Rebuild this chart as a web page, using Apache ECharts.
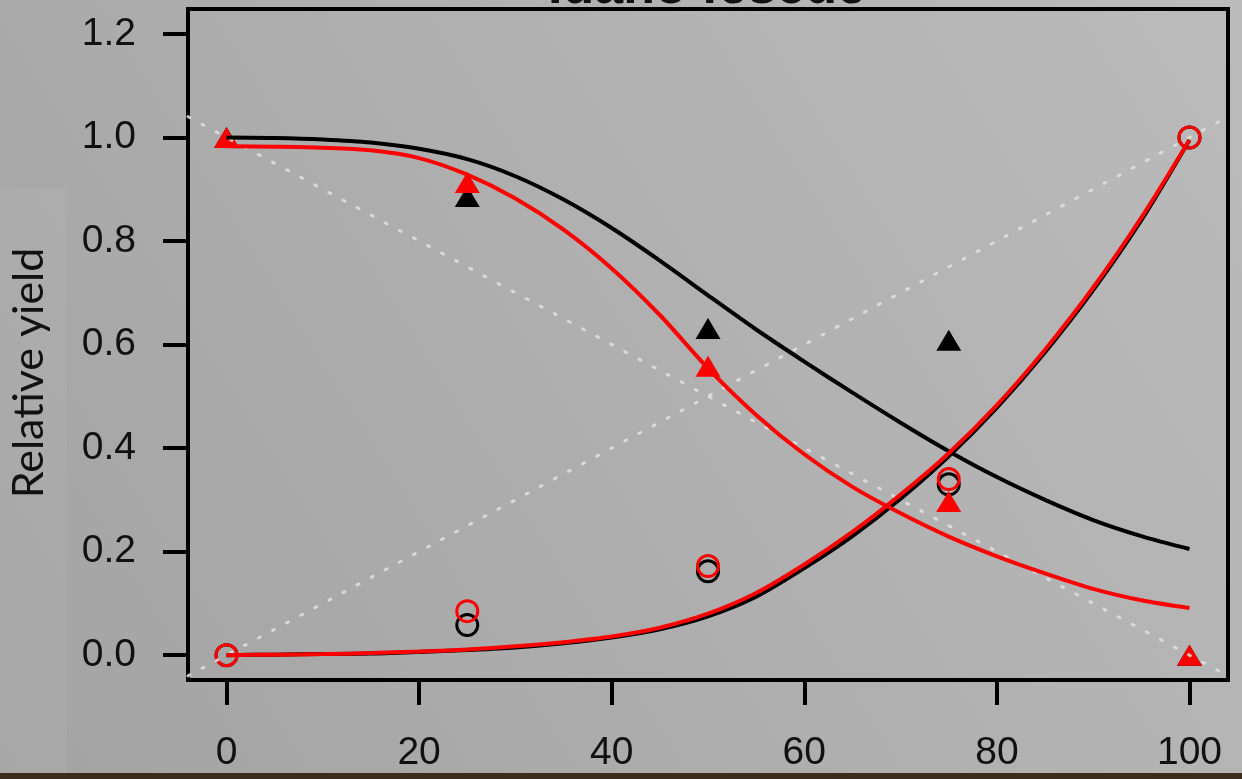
<!DOCTYPE html>
<html lang="en">
<head>
    <meta charset="UTF-8">
    <title>Idaho fescue</title>
    <script src="https://cdn.jsdelivr.net/npm/echarts@6/dist/echarts.min.js"></script>
    <style>html,body{margin:0;padding:0;}</style>
</head>
<body>
    <div id="main" style="width: 1242px;height: 779px"></div>
    <script>
        // x 轴刻度和 y 轴刻度
        var xTicks = [0, 20, 40, 60, 80, 100];
        var yTicks = [0, 0.2, 0.4, 0.6, 0.8, 1.0, 1.2];

        // 观测点
        var blackTri = [[0, 1.0], [25, 0.886], [50, 0.631], [75, 0.608], [100, 0]];
        var redTri = [[0, 1.0], [25, 0.913], [50, 0.558], [75, 0.297], [100, 0]];
        var blackCirc = [[0, 0], [25, 0.058], [50, 0.162], [75, 0.33], [100, 1.0]];
        var redCirc = [[0, 0], [25, 0.085], [50, 0.172], [75, 0.34], [100, 1.0]];

        // 拟合曲线
        var curveX = [0, 5, 10, 15, 20, 25, 30, 35, 40, 45, 50, 55, 60, 65, 70, 75, 80, 85, 90, 95, 100];
        var blackDec = [1.0, 0.999, 0.996, 0.99, 0.978, 0.958, 0.925, 0.88, 0.825, 0.762, 0.695, 0.629, 0.567, 0.507, 0.449, 0.394, 0.344, 0.3, 0.261, 0.23, 0.205];
        var redDec = [0.983, 0.982, 0.98, 0.975, 0.96, 0.928, 0.882, 0.822, 0.747, 0.657, 0.554, 0.464, 0.388, 0.325, 0.274, 0.229, 0.191, 0.158, 0.128, 0.106, 0.091];
        var blackInc = [0, 0.001, 0.002, 0.003, 0.006, 0.01, 0.015, 0.023, 0.034, 0.05, 0.075, 0.113, 0.168, 0.23, 0.302, 0.384, 0.478, 0.585, 0.705, 0.84, 0.995];
        var redInc = [0, 0.001, 0.002, 0.004, 0.007, 0.011, 0.017, 0.025, 0.036, 0.053, 0.08, 0.12, 0.175, 0.238, 0.31, 0.39, 0.483, 0.59, 0.71, 0.845, 0.995];

        // 白色虚线（对角参考线）
        var refX = [-4, 104];
        var refDown = [1.04, -0.04];
        var refUp = [-0.04, 1.04];

        function pairs(xs, ys) {
            return xs.map(function (x, i) { return [x, ys[i]]; });
        }

        function curve(data, color) {
            return {
                type: 'line', data: data, showSymbol: false, smooth: 0.3,
                lineStyle: {color: color, width: 4}, silent: true
            };
        }

        function refLine(data) {
            return {
                type: 'line', data: data, showSymbol: false, silent: true,
                lineStyle: {color: 'rgba(225,225,225,0.85)', width: 3, type: [2, 14], cap: 'round'}
            };
        }

        function points(data, symbol, color, filled) {
            return {
                type: 'scatter', data: data, symbol: symbol,
                symbolSize: filled ? [25, 21] : 21,
                itemStyle: filled ? {color: color, opacity: 1} : {color: 'rgba(0,0,0,0)', borderColor: color, borderWidth: 3, opacity: 1}
            };
        }

        var mCharts = echarts.init(document.getElementById('main'));
        var option = {
            animation: false,
            backgroundColor: {
                type: 'linear', x: 0, y: 1, x2: 1, y2: 0,
                colorStops: [{offset: 0, color: '#a3a3a3'}, {offset: 1, color: '#bbbbbb'}]
            },
            grid: {left: 188, right: 14, top: 9, bottom: 99, show: true, borderColor: '#000', borderWidth: 4},
            xAxis: {
                type: 'value', min: -4, max: 104,
                axisLine: {show: false, onZero: false}, splitLine: {show: false},
                axisTick: {show: true, customValues: xTicks, length: 25, lineStyle: {color: '#000', width: 4}},
                axisLabel: {customValues: xTicks, fontSize: 39, color: '#111', margin: 54, fontFamily: 'Liberation Sans'}
            },
            yAxis: {
                type: 'value', min: -0.048, max: 1.248,
                axisLine: {show: false, onZero: false}, splitLine: {show: false},
                axisTick: {show: true, customValues: yTicks, length: 25, lineStyle: {color: '#000', width: 4}},
                axisLabel: {
                    customValues: yTicks, fontSize: 39, color: '#111', margin: 52, fontFamily: 'Liberation Sans',
                    formatter: function (v) { return v.toFixed(1); }
                }
            },
            graphic: [
                {type: 'rect', shape: {x: 0, y: 188, width: 67, height: 600}, style: {fill: 'rgba(255,255,255,0.05)'}, z: -1},
                {type: 'rect', shape: {x: 0, y: 773, width: 1242, height: 6}, style: {fill: '#3b2d1c'}},
                {
                    type: 'text', x: 707, y: 15,
                    style: {text: 'Idaho fescue', font: 'bold 52px "Liberation Sans"', fill: '#111', textAlign: 'center', textVerticalAlign: 'bottom'}
                },
                {
                    type: 'text', x: 29, y: 373, rotation: Math.PI / 2,
                    style: {text: 'Relative yield', font: '43px Lato', fill: '#111', textAlign: 'center', textVerticalAlign: 'middle'}
                }
            ],
            series: [
                refLine(pairs(refX, refDown)),
                refLine(pairs(refX, refUp)),
                curve(pairs(curveX, blackDec), '#000'),
                curve(pairs(curveX, blackInc), '#000'),
                curve(pairs(curveX, redDec), '#ff0000'),
                curve(pairs(curveX, redInc), '#ff0000'),
                points(blackTri, 'triangle', '#000', true),
                points(blackCirc, 'circle', '#000', false),
                points(redTri, 'triangle', '#ff0000', true),
                points(redCirc, 'circle', '#ff0000', false)
            ]
        };
        mCharts.setOption(option);
    </script>
</body>
</html>
